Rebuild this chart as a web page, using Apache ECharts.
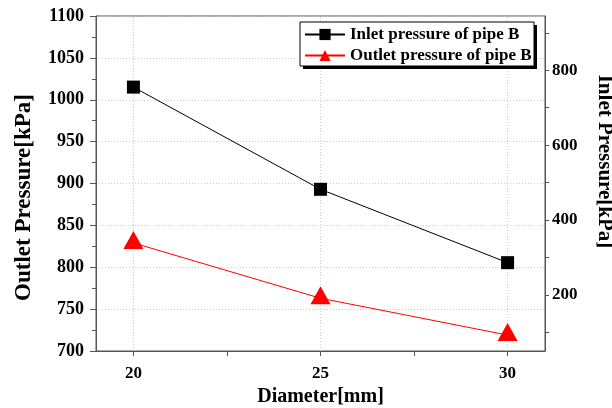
<!DOCTYPE html>
<html>
<head>
<meta charset="utf-8">
<script src="https://cdn.jsdelivr.net/npm/echarts@6/dist/echarts.min.js"></script>
<style>html,body{margin:0;padding:0;background:#fff;}#c{width:612px;height:408px;}</style>
</head>
<body>
<div id="c"></div>
<script>
var diameters = [20, 25, 30];
var inletPressure = [755, 482, 286];
var outletPressure = [829, 763, 719];
var xTickLabels = [20, 25, 30];
var xTicks = [20, 22.5, 25, 27.5, 30];
var rightTickLabels = [200, 400, 600, 800];
var rightTicks = [100, 200, 300, 400, 500, 600, 700, 800, 900];

var FONT = '"Liberation Serif", "Times New Roman", serif';
var axisColor = '#555';
var chart = echarts.init(document.getElementById('c'), null, {renderer: 'canvas'});

function pairs(xs, ys) { return xs.map(function (x, i) { return [x, ys[i]]; }); }
function plain(v) { return String(v); }

chart.setOption({
  animation: false,
  backgroundColor: '#fff',
  grid: {left: 96, right: 67, top: 16, bottom: 57, outerBoundsMode: 'none', containLabel: false,
         show: true, borderColor: axisColor, borderWidth: 1, backgroundColor: 'transparent'},
  legend: {
    orient: 'vertical', left: 300, top: 21, padding: [5, 4], itemWidth: 40, itemHeight: 14, itemGap: 4,
    z: 10,
    textStyle: {fontFamily: FONT, fontWeight: 'bold', fontSize: 17, color: '#000'},
    data: ['Inlet pressure of pipe B', 'Outlet pressure of pipe B']
  },
  graphic: [
    {type: 'rect', z: 8, shape: {x: 303, y: 25, width: 234, height: 44}, style: {fill: '#000'}},
    {type: 'rect', z: 9, shape: {x: 300, y: 22, width: 234, height: 44}, style: {fill: '#fff', stroke: '#000', lineWidth: 1}}
  ],
  xAxis: {
    type: 'value', min: 19, max: 31,
    name: 'Diameter[mm]', nameLocation: 'middle', nameGap: 34,
    nameTextStyle: {fontFamily: FONT, fontWeight: 'bold', fontSize: 20, color: '#000'},
    axisLine: {show: true, lineStyle: {color: axisColor}},
    axisTick: {show: true, inside: false, length: 5, customValues: xTicks, lineStyle: {color: axisColor}},
    axisLabel: {customValues: xTickLabels, formatter: plain, fontFamily: FONT, fontWeight: 'bold', fontSize: 17, color: '#000', margin: 14},
    splitLine: {show: false}
  },
  yAxis: [
    {
      type: 'value', min: 700, max: 1100, interval: 50, position: 'left',
      name: 'Outlet Pressure[kPa]', nameLocation: 'middle', nameGap: 60, nameRotate: 90,
      nameTextStyle: {fontFamily: FONT, fontWeight: 'bold', fontSize: 23, color: '#000', padding: [0, 28, 0, 0]},
      axisLine: {show: true, lineStyle: {color: axisColor}},
      axisTick: {show: true, inside: false, length: 6, lineStyle: {color: axisColor}},
      minorTick: {show: true, splitNumber: 2, length: 4, lineStyle: {color: axisColor}},
      axisLabel: {formatter: plain, fontFamily: FONT, fontWeight: 'bold', fontSize: 18, color: '#000', margin: 12},
      splitLine: {show: true, lineStyle: {color: '#ccc', type: [1, 2], width: 1}}
    },
    {
      type: 'value', min: 50, max: 945, position: 'right',
      name: 'Inlet Pressure[kPa]', nameLocation: 'middle', nameGap: 49, nameRotate: -90,
      nameTextStyle: {fontFamily: FONT, fontWeight: 'bold', fontSize: 21, color: '#000', padding: [0, 44, 0, 0]},
      axisLine: {show: true, lineStyle: {color: axisColor}},
      axisTick: {show: true, inside: false, length: 4, customValues: rightTicks, lineStyle: {color: axisColor}},
      axisLabel: {customValues: rightTickLabels, formatter: plain, fontFamily: FONT, fontWeight: 'bold', fontSize: 17, color: '#000', margin: 7},
      splitLine: {show: false}
    }
  ],
  series: [
    {
      name: 'Inlet pressure of pipe B', type: 'line', yAxisIndex: 1,
      data: pairs(diameters, inletPressure),
      symbol: 'rect', symbolSize: 13,
      lineStyle: {color: '#000', width: 1},
      itemStyle: {color: '#000'},
      z: 3
    },
    {
      name: 'Outlet pressure of pipe B', type: 'line', yAxisIndex: 0,
      data: pairs(diameters, outletPressure),
      symbol: 'triangle', symbolSize: [20, 18], symbolOffset: [0, -3],
      lineStyle: {color: '#ff0000', width: 1},
      itemStyle: {color: '#ff0000'},
      z: 3,
      markLine: {
        silent: true, symbol: 'none', label: {show: false}, z: 1,
        lineStyle: {color: '#ccc', type: [1, 2], width: 1},
        data: xTickLabels.map(function (v) { return {xAxis: v}; })
      }
    }
  ]
});
</script>
</body>
</html>
